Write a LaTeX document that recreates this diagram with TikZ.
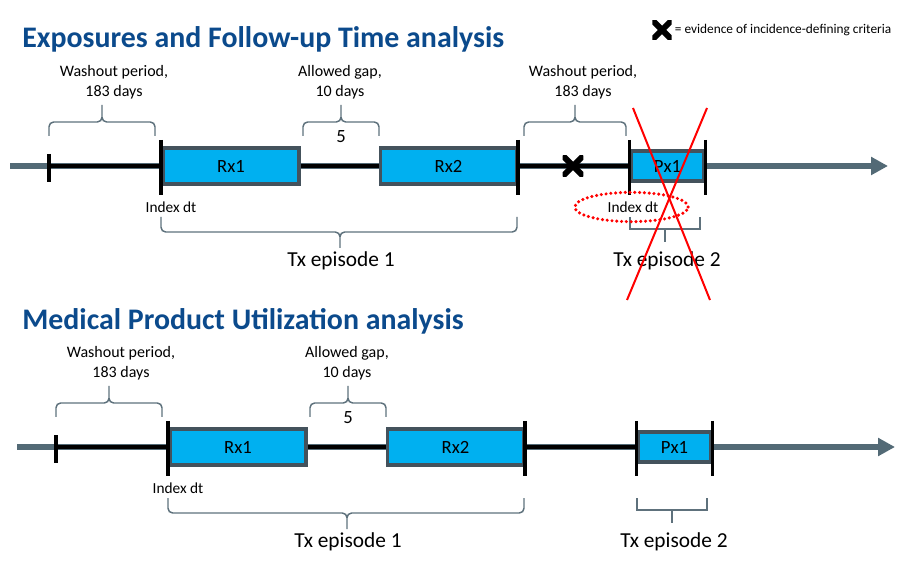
\documentclass[tikz,border=0pt]{standalone}
\usepackage{fontspec}
\setmainfont{Carlito}
\usepackage{xcolor}
\usetikzlibrary{positioning,shapes.geometric,arrows.meta}
\definecolor{ttlblue}{HTML}{0B4A8C}
\definecolor{axisgray}{HTML}{536A76}
\definecolor{boxblue}{HTML}{00B0F0}
\definecolor{boxedge}{HTML}{44525C}
\definecolor{brcgray}{HTML}{5E717C}

\begin{document}
\begin{tikzpicture}[x=0.75pt, y=-0.75pt,
  ttl/.style={font=\bfseries\fontsize{22.4}{26}\selectfont, text=ttlblue, inner sep=0pt},
  axisln/.style={draw=axisgray, line width=4.5pt, -{Triangle[length=12.75pt, width=13pt]}},
  rxbox/.style={draw=boxedge, fill=boxblue, line width=2.3pt, minimum width=102pt, minimum height=27pt, inner sep=0pt, font=\fontsize{14}{16}\selectfont},
  pxbox/.style={rxbox, minimum width=54.75pt, minimum height=22.5pt},
  tickln/.style={draw=black, line width=2.6pt},
  segln/.style={draw=black, line width=2.3pt},
  brc/.style={draw=brcgray, line width=1.1pt, rounded corners=3.5pt},
  bkt/.style={draw=brcgray, line width=1.1pt},
  lbl/.style={font=\fontsize{12}{15}\selectfont, align=center},
  numlbl/.style={font=\fontsize{14}{16}\selectfont},
  idxlbl/.style={font=\fontsize{11.5}{14}\selectfont},
  epilbl/.style={font=\fontsize{16}{19}\selectfont},
  xmk/.style={minimum size=15.5pt, inner sep=0pt,
    path picture={\draw[line width=4.5pt, black]
      (path picture bounding box.south west) -- (path picture bounding box.north east)
      (path picture bounding box.north west) -- (path picture bounding box.south east);}},
  redring/.style={ellipse, draw=red, line width=2.6pt, dash pattern=on 0pt off 3.6pt, line cap=round, minimum width=85pt, minimum height=22pt},
  redcross/.style={draw=red, line width=1.5pt},
]
\useasboundingbox (0,0) rectangle (903,566);

% Titles
\node[ttl, anchor=base west] (ttlexp) at (22,48) {Exposures and Follow-up Time analysis};
\node[ttl, anchor=base west] (ttlmed) at (22,330) {Medical Product Utilization analysis};

% Both timelines (top panel, bottom panel shifted)
\foreach \p/\dx/\dy in {1/0/0, 2/7/281} {
\begin{scope}[shift={(\dx,\dy)}]
  \coordinate (ax\p) at (10,166);
  \coordinate (tip\p) at (888,166);
  \draw[axisln] (ax\p) -- (tip\p);

  \coordinate (wo\p) at (49,166);
  \coordinate (ix\p) at (161,166);
  \node[rxbox] (rxa\p) at (231,166) {Rx1};
  \node[rxbox] (rxb\p) at (448.5,166) {Rx2};
  \node[pxbox] (pxa\p) at (667.5,166) {Px1};
  \draw[segln] (wo\p) -- (rxa\p.west) (rxa\p.east) -- (rxb\p.west) (rxb\p.east) -- (pxa\p.west);

  % ticks
  \draw[tickln] (wo\p) ++(0,-12) -- ++(0,28);
  \draw[tickln] (ix\p) ++(0,-26) -- ++(0,55);
  \foreach \a in {rxb\p.east, pxa\p.west, pxa\p.east}
    \draw[tickln] (\a) ++(0,-26) -- ++(0,55);

  % braces above
  \draw[brc] (49,136) -- (49,122) -- (102,122) -- (102,105)
             (155,136) -- (155,122) -- (102,122) -- (102,105);
  \node[lbl] (wolbl\p) at (114,82) {Washout period,\\183 days};
  \draw[brc] (303,136) -- (303,122) -- (341,122) -- (341,105)
             (379,136) -- (379,122) -- (341,122) -- (341,105);
  \node[lbl] (gaplbl\p) at (340,82) {Allowed gap,\\10 days};
  \node[numlbl] (gapn\p) at (341,137) {5};

  % episodes below
  \node[idxlbl] (idx\p) at (171,207) {Index dt};
  \draw[brc] (161,217) -- (161,232) -- (340,232) -- (340,248)
             (517,217) -- (517,232) -- (340,232) -- (340,248);
  \node[epilbl] (epa\p) at (341,261) {Tx episode 1};
  \draw[bkt] (630,217) -- (630,229) -- (700,229) -- (700,217)
             (665,229) -- (665,242);
  \node[epilbl] (epb\p) at (667,261) {Tx episode 2};
\end{scope}
}

% Top panel only: second washout, evidence mark, struck-out episode
\draw[brc] (524,136) -- (524,122) -- (575,122) -- (575,105)
           (626,136) -- (626,122) -- (575,122) -- (575,105);
\node[lbl] (wolblb) at (583,82) {Washout period,\\183 days};
\node[xmk] (evid) at (573,166) {};
\node[idxlbl] (idxb) at (633,207) {Index dt};
\node[redring] (idxring) at (631.5,207) {};
\draw[redcross] (633,108) -- (710,300);
\draw[redcross] (707,108) -- (627,300);

% Legend
\node[xmk, minimum size=14.5pt] (legx) at (662,30) {};
\node[font=\fontsize{10}{12}\selectfont, inner sep=0pt, right=2pt of legx] (legtxt) {= evidence of incidence-defining criteria};
\end{tikzpicture}
\end{document}
